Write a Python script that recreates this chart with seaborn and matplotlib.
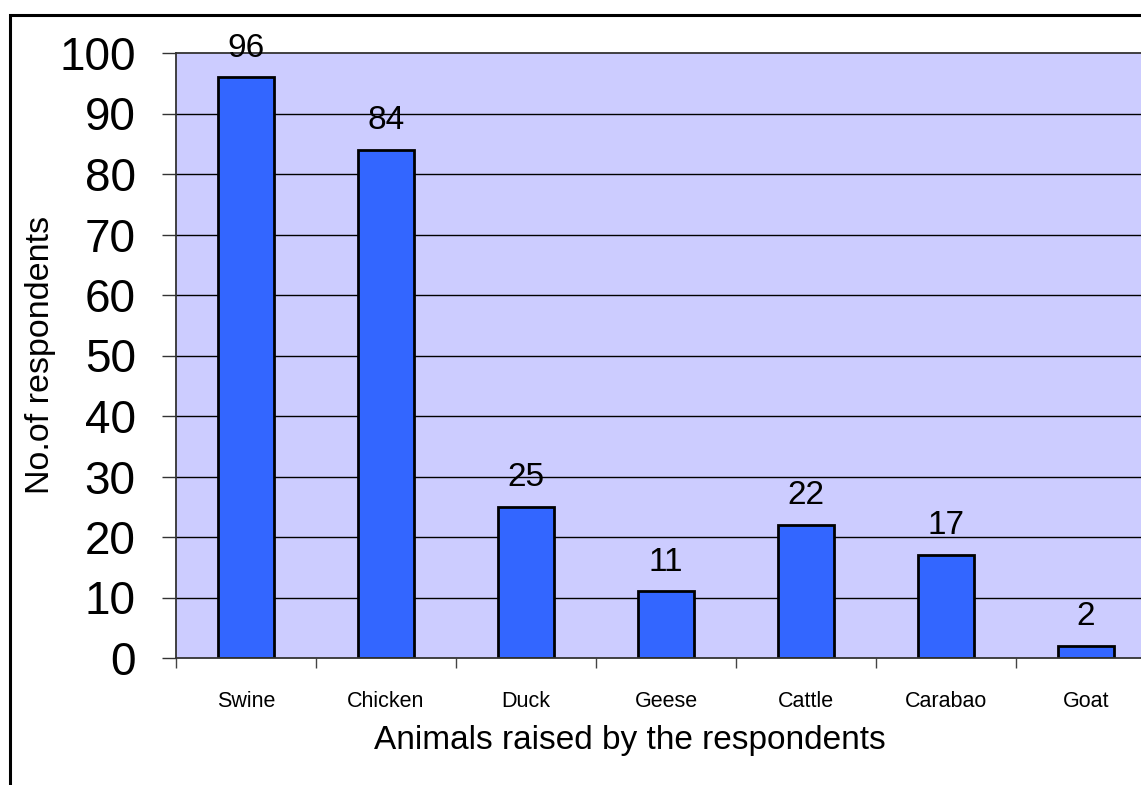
import matplotlib
matplotlib.use("Agg")
import matplotlib.pyplot as plt
from matplotlib.patches import Rectangle
import seaborn as sns
import pandas as pd

animals = ["Swine", "Chicken", "Duck", "Geese", "Cattle", "Carabao", "Goat"]
respondents = [96, 84, 25, 11, 22, 17, 2]
y_ticks = [0, 10, 20, 30, 40, 50, 60, 70, 80, 90, 100]

sns.set_theme(style="white")
plt.rcParams["font.family"] = ["Liberation Sans", "DejaVu Sans"]
plt.rcParams["text.color"] = "black"
plt.rcParams["axes.labelcolor"] = "black"
plt.rcParams["xtick.labelcolor"] = "black"
plt.rcParams["ytick.labelcolor"] = "black"

W, H = 1141, 785
fig = plt.figure(figsize=(W / 100, H / 100), dpi=100)
fig.patch.set_facecolor("white")

# plot area (right edge runs past the figure edge)
left, right, top, bottom = 176, 1156, 53, 658
ax = fig.add_axes([left / W, 1 - bottom / H, (right - left) / W, (bottom - top) / H])
ax.set_facecolor("#CCCCFF")

df = pd.DataFrame({"animal": animals, "count": respondents})

# horizontal grid lines behind the bars
for v in y_ticks[1:-1]:
    ax.axhline(v, color="black", lw=1.0, zorder=0.5)

sns.barplot(data=df, x="animal", y="count", order=animals, color="#3366FF",
            saturation=1, width=0.4, edgecolor="black", linewidth=2.0, ax=ax, zorder=2)

ax.set_xlim(-0.5, len(animals) - 0.5)
ax.set_ylim(0, 100)

# value labels above each bar
for i, v in enumerate(respondents):
    ax.annotate(str(v), xy=(i, v), xytext=(0, 21), textcoords="offset points",
                ha="center", va="center", fontsize=24, color="black", zorder=3)

# axes styling
for side in ["top", "left", "bottom", "right"]:
    ax.spines[side].set_color("#333333")
    ax.spines[side].set_linewidth(1.3)

ax.set_yticks(y_ticks)
ax.set_yticklabels([str(t) for t in y_ticks], fontsize=33)
ax.tick_params(axis="y", which="major", left=True, length=10, width=1.0,
               color="#333333", pad=19, direction="out")

ax.set_xticks(range(len(animals)))
ax.set_xticklabels(animals, fontsize=15.5)
ax.tick_params(axis="x", which="major", bottom=True, length=0, pad=24)
ax.set_xticks([i - 0.5 for i in range(len(animals) + 1)], minor=True)
ax.tick_params(axis="x", which="minor", bottom=True, length=7.5, width=1.0,
               color="#444444", direction="out")

ax.set_xlabel("Animals raised by the respondents", fontsize=24, va="center")
ax.xaxis.set_label_coords((630 - left) / (right - left), (bottom - 741) / (bottom - top))
ax.set_ylabel("No.of respondents", fontsize=24.5, va="center")
ax.yaxis.set_label_coords((41 - left) / (right - left), (bottom - 355) / (bottom - top))

# outer chart frame
fig.patches.append(Rectangle((9.5 / W, -0.1), 1.2, (1 - 15 / H) + 0.1,
                             transform=fig.transFigure, fill=False,
                             edgecolor="black", linewidth=2.2, zorder=0))

fig.savefig("out.png", dpi=100, facecolor="white")
